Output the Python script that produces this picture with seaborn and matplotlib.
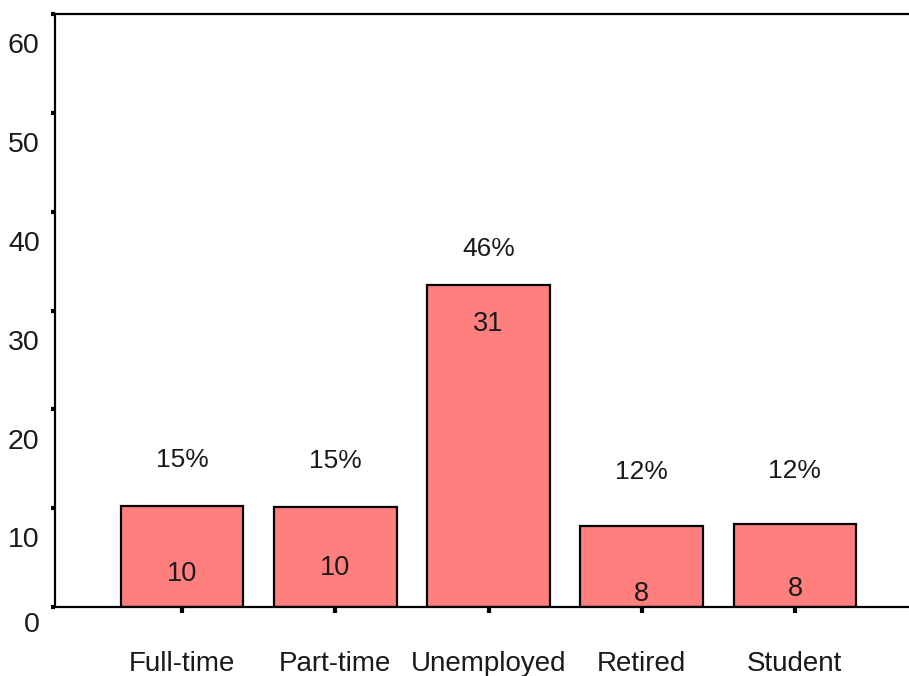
import matplotlib
matplotlib.use("Agg")
import matplotlib.pyplot as plt
import matplotlib.transforms as mtransforms
import seaborn as sns
import pandas as pd

# data
categories = ["Full-time", "Part-time", "Unemployed", "Retired", "Student"]
bar_heights = [10.2, 10.1, 32.6, 8.2, 8.4]
counts = ["10", "10", "31", "8", "8"]
percents = ["15%", "15%", "46%", "12%", "12%"]
y_ticks = [0, 10, 20, 30, 40, 50, 60]

BAR = "#FF7F7F"
INK = "#1a1a1a"

sns.set_style("white")
plt.rcParams["font.family"] = ["Liberation Sans", "DejaVu Sans"]

df = pd.DataFrame({"status": categories, "n": bar_heights})

fig = plt.figure(figsize=(9.09, 6.76), dpi=100)
ax = fig.add_axes([0.0605, 0.102, 0.9395, 0.877])
sns.barplot(data=df, x="status", y="n", color=BAR, saturation=1,
            edgecolor="black", linewidth=1.6, width=0.8, ax=ax)

ax.set_xlim(-0.83, 4.745)
ax.set_ylim(0, 60)
ax.set_xlabel(""); ax.set_ylabel("")
ax.set_yticks(y_ticks)
ax.set_yticklabels([str(t) for t in y_ticks])

for s in ("left", "bottom", "top"):
    ax.spines[s].set_visible(True)
    ax.spines[s].set_color("black")
    ax.spines[s].set_linewidth(1.6)
ax.spines["right"].set_visible(False)

ax.tick_params(axis="y", direction="out", length=3, width=3, color="black",
               pad=8, labelsize=20.5, labelcolor=INK, left=True)
ax.tick_params(axis="x", direction="out", length=4, width=3, color="black",
               pad=28, labelsize=20, labelcolor=INK, bottom=True)

# y tick labels sit below their ticks in the reference
for lab, t in zip(ax.get_yticklabels(), y_ticks):
    dy = -11 if t == 0 else -21
    lab.set_transform(lab.get_transform() +
                      mtransforms.ScaledTranslation(0, dy / 72, fig.dpi_scale_trans))

# label offsets (points) relative to bar top
pct_off = [33, 33, 26, 39, 38]
cnt_off = [-49, -44, -28, -49, -47]
for i, patch in enumerate(ax.patches):
    cx = patch.get_x() + patch.get_width() / 2
    top = patch.get_height()
    ax.annotate(percents[i], (cx, top), xytext=(0, pct_off[i]),
                textcoords="offset points", ha="center", va="center",
                fontsize=19, color=INK)
    ax.annotate(counts[i], (cx, top), xytext=(0, cnt_off[i]),
                textcoords="offset points", ha="center", va="center",
                fontsize=19.5, color=INK)

fig.savefig("out.png", dpi=100)
